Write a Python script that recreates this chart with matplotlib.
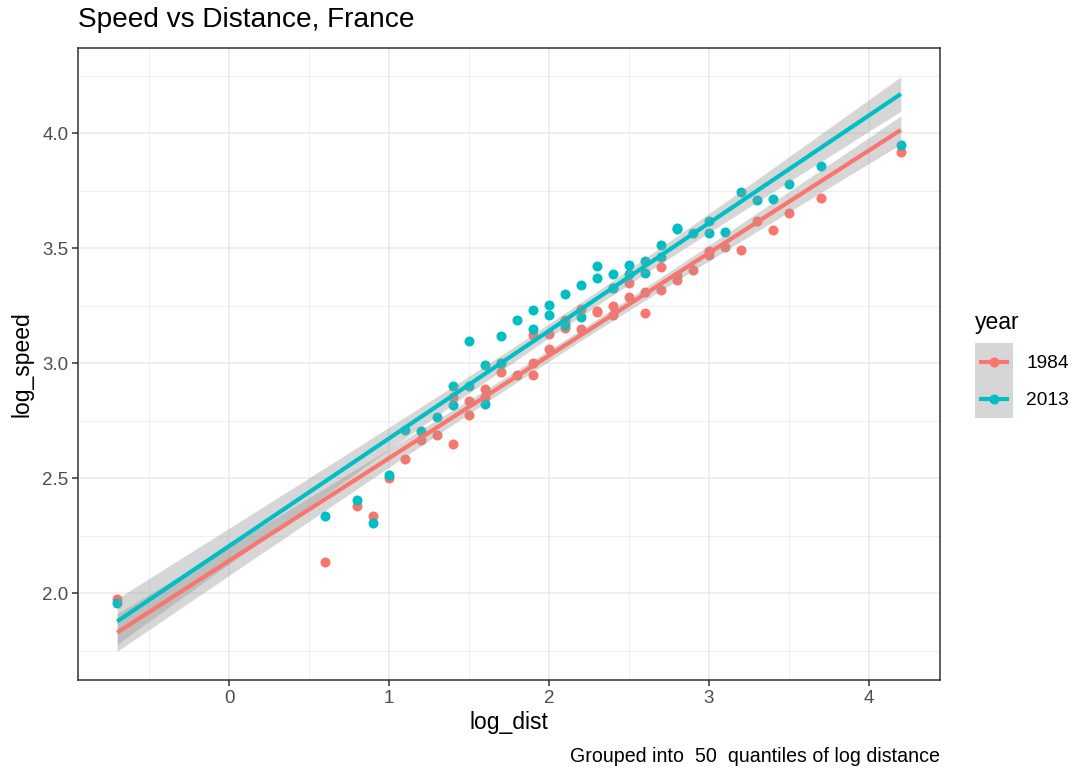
import matplotlib
matplotlib.use("Agg")
import matplotlib.pyplot as plt
import numpy as np

plt.rcParams['font.family'] = ['Liberation Sans', 'DejaVu Sans']

# quantile means of log distance / log speed
dist_1984 = [-0.7, 0.6, 0.8, 0.9, 1.0, 1.1, 1.2, 1.3, 1.4, 1.4,
             1.5, 1.5, 1.6, 1.6, 1.7, 1.7, 1.8, 1.9, 1.9, 1.9,
             2.0, 2.0, 2.1, 2.1, 2.2, 2.2, 2.3, 2.3, 2.4, 2.4,
             2.4, 2.5, 2.5, 2.6, 2.6, 2.7, 2.7, 2.8, 2.8, 2.9,
             3.0, 3.0, 3.1, 3.2, 3.3, 3.4, 3.5, 3.7, 4.2]
speed_1984 = [1.975, 2.135, 2.378, 2.335, 2.50, 2.584, 2.668, 2.687, 2.853, 2.649,
              2.835, 2.777, 2.888, 2.853, 3.00, 2.962, 2.948, 3.122, 3.001, 2.948,
              3.128, 3.06, 3.19, 3.153, 3.238, 3.151, 3.223, 3.226, 3.327, 3.248,
              3.212, 3.349, 3.29, 3.309, 3.217, 3.42, 3.317, 3.381, 3.362, 3.407,
              3.49, 3.47, 3.504, 3.494, 3.617, 3.581, 3.654, 3.719, 3.919]

dist_2013 = [-0.7, 0.6, 0.8, 0.9, 1.0, 1.1, 1.2, 1.3, 1.4, 1.4,
             1.5, 1.5, 1.6, 1.6, 1.7, 1.7, 1.8, 1.9, 1.9, 2.0,
             2.0, 2.1, 2.1, 2.2, 2.2, 2.3, 2.3, 2.4, 2.4, 2.5,
             2.5, 2.6, 2.6, 2.7, 2.7, 2.8, 2.8, 2.9, 3.0, 3.0,
             3.1, 3.2, 3.3, 3.4, 3.5, 3.7, 4.2]
speed_2013 = [1.96, 2.335, 2.404, 2.304, 2.513, 2.709, 2.704, 2.765, 2.90, 2.82,
              3.099, 2.90, 2.994, 2.823, 3.117, 3.00, 3.186, 3.232, 3.151, 3.255,
              3.212, 3.30, 3.168, 3.342, 3.20, 3.422, 3.371, 3.389, 3.327, 3.426,
              3.386, 3.446, 3.393, 3.513, 3.461, 3.588, 3.582, 3.567, 3.62, 3.567,
              3.571, 3.745, 3.711, 3.714, 3.781, 3.857, 3.948]

years = ['1984', '2013']
colors = ['#F8766D', '#00BFC4']
n_quantiles = 50


def lm_band(x, y, grid):
    x = np.asarray(x)
    y = np.asarray(y)
    b, a = np.polyfit(x, y, 1)
    resid = y - (a + b * x)
    n = len(x)
    s = np.sqrt(np.sum(resid ** 2) / (n - 2))
    sxx = np.sum((x - x.mean()) ** 2)
    se = s * np.sqrt(1.0 / n + (grid - x.mean()) ** 2 / sxx)
    fit = a + b * grid
    return fit, fit - 2.011 * se, fit + 2.011 * se


fig = plt.figure(figsize=(10.75, 7.69), dpi=100)
ax = fig.add_axes([78 / 1075, 1 - 680 / 769, 862 / 1075, 632 / 769])

data = [(dist_1984, speed_1984), (dist_2013, speed_2013)]
for (xs, ys), c in zip(data, colors):
    ax.scatter(xs, ys, s=52, color=c, linewidths=0, zorder=3)

lo_all, hi_all = [], []
for (xs, ys), c in zip(data, colors):
    grid = np.linspace(min(xs), max(xs), 80)
    fit, lo, hi = lm_band(xs, ys, grid)
    ax.fill_between(grid, lo, hi, color='#999999', alpha=0.4, linewidth=0, zorder=4)
    ax.plot(grid, fit, color=c, lw=3, zorder=5, solid_capstyle='butt')
    lo_all.append(lo.min())
    hi_all.append(hi.max())

allx = dist_1984 + dist_2013
xr = max(allx) - min(allx)
ax.set_xlim(min(allx) - 0.05 * xr, max(allx) + 0.05 * xr)
ymin = min(min(lo_all), min(speed_1984 + speed_2013))
ymax = max(max(hi_all), max(speed_1984 + speed_2013))
yr = ymax - ymin
ax.set_ylim(ymin - 0.05 * yr, ymax + 0.05 * yr)

ax.set_xticks([0, 1, 2, 3, 4])
ax.set_xticks([-0.5, 0.5, 1.5, 2.5, 3.5], minor=True)
ax.set_yticks([2.0, 2.5, 3.0, 3.5, 4.0])
ax.set_yticklabels(['2.0', '2.5', '3.0', '3.5', '4.0'])
ax.set_yticks([1.75, 2.25, 2.75, 3.25, 3.75, 4.25], minor=True)
ax.grid(which='major', color='#EBEBEB', lw=1.1)
ax.grid(which='minor', color='#EBEBEB', lw=0.55)
ax.set_axisbelow(True)
for sp in ax.spines.values():
    sp.set_color('#333333')
    sp.set_linewidth(1.1)
ax.tick_params(which='major', length=4, width=1.1, color='#333333',
               labelcolor='#4D4D4D', labelsize=13.5, pad=3)
ax.tick_params(which='minor', length=0)

ax.set_xlabel('log_dist', fontsize=16.5, labelpad=3)
ax.set_ylabel('log_speed', fontsize=16.5, labelpad=6)
fig.text(78 / 1075, 1 - 20 / 769, 'Speed vs Distance, France', fontsize=20.2,
         ha='left', va='center')
fig.text(940 / 1075, 1 - 756 / 769,
         'Grouped into  %d  quantiles of log distance' % n_quantiles,
         fontsize=14.1, ha='right', va='center')

# legend, drawn like ggplot's key with the ribbon fill behind it
fig.text(975 / 1075, 1 - 322 / 769, 'year', fontsize=16.5, ha='left', va='center')
lax = fig.add_axes([975 / 1075, 1 - 418 / 769, 38 / 1075, 75 / 769])
lax.set_xlim(0, 1)
lax.set_ylim(0, 2)
lax.set_facecolor('#D6D6D6')
for sp in lax.spines.values():
    sp.set_visible(False)
lax.set_xticks([])
lax.set_yticks([])
for i, (yr_lab, c) in enumerate(zip(years, colors)):
    yk = 1.5 - i
    lax.plot([0.1, 0.9], [yk, yk], color=c, lw=3, solid_capstyle='butt')
    lax.scatter([0.5], [yk], s=52, color=c, linewidths=0)
    fig.text(1026 / 1075, 1 - (363 + 37 * i) / 769, yr_lab, fontsize=13.8,
             ha='left', va='center')

fig.savefig('out.png', dpi=100)
